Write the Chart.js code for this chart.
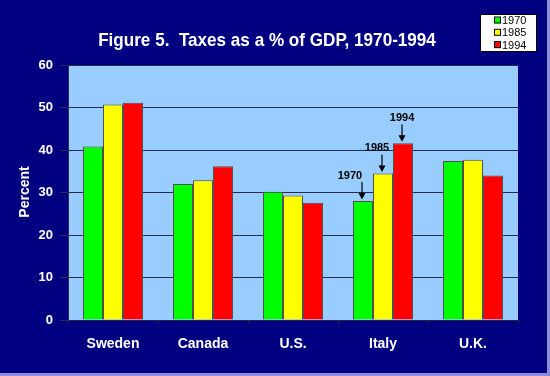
<!DOCTYPE html>
<html>
<head>
<meta charset="utf-8">
<script src="https://cdn.jsdelivr.net/npm/chart.js@4/dist/chart.umd.min.js"></script>
<style>
  body { margin: 0; background: #8c8cd8; width: 550px; height: 376px; overflow: hidden; }
  #wrap { width: 547px; height: 373px; background: #000080; }
</style>
</head>
<body>
<div id="wrap"><canvas id="taxChart" width="547" height="373"></canvas></div>
<script>
// data
const countries = ['Sweden', 'Canada', 'U.S.', 'Italy', 'U.K.'];
const years = ['1970', '1985', '1994'];
const taxes1970 = [40.8, 32.0, 30.2, 28.0, 37.4];
const taxes1985 = [50.7, 32.9, 29.3, 34.5, 37.7];
const taxes1994 = [51.1, 36.2, 27.6, 41.6, 34.0];
const yTicks = [0, 10, 20, 30, 40, 50, 60];
const barColors = ['#00ff00', '#ffff00', '#ff0000'];

const FONT = '"Liberation Sans", Arial, sans-serif';

// title, axis title, legend box and the Italy call-outs
const extras = {
    id: 'extras',
    afterDraw(chart) {
        const ctx = chart.ctx;
        ctx.save();
        // title (slightly condensed, like the original)
        ctx.fillStyle = '#ffffff';
        ctx.textAlign = 'center';
        ctx.textBaseline = 'middle';
        ctx.save();
        ctx.translate(267, 41);
        ctx.scale(0.9, 1);
        ctx.font = 'bold 19px ' + FONT;
        ctx.fillText('Figure 5.  Taxes as a % of GDP, 1970-1994', 0, 0);
        ctx.restore();

        // y axis title
        ctx.save();
        ctx.translate(25, 192);
        ctx.rotate(-Math.PI / 2);
        ctx.font = 'bold 14px ' + FONT;
        ctx.fillText('Percent', 0, 0);
        ctx.restore();

        // legend
        ctx.fillStyle = '#ffffff';
        ctx.fillRect(480, 14, 57, 38);
        ctx.strokeStyle = '#000000';
        ctx.lineWidth = 1;
        ctx.strokeRect(480.5, 14.5, 56, 37);
        ctx.font = '11px ' + FONT;
        ctx.textAlign = 'left';
        years.forEach((y, i) => {
            const cy = 20.5 + i * 12.3;
            ctx.fillStyle = barColors[i];
            ctx.fillRect(494, cy - 3, 6, 6);
            ctx.strokeStyle = '#000000';
            ctx.strokeRect(494.5, cy - 3.5, 6, 6);
            ctx.fillStyle = '#000000';
            ctx.fillText(y, 502, cy + 0.5);
        });

        // call-outs on Italy bars
        const offsets = [-12, -5, 0];
        ctx.font = 'bold 11px ' + FONT;
        ctx.textAlign = 'center';
        years.forEach((y, i) => {
            const bar = chart.getDatasetMeta(i).data[3];
            const x = bar.x - 1;
            const top = bar.y;
            ctx.fillStyle = '#000000';
            ctx.fillText(y, x + offsets[i], top - 25);
            ctx.strokeStyle = '#000000';
            ctx.lineWidth = 1.2;
            ctx.beginPath();
            ctx.moveTo(x, top - 19);
            ctx.lineTo(x, top - 6);
            ctx.stroke();
            ctx.beginPath();
            ctx.moveTo(x - 3.5, top - 8);
            ctx.lineTo(x + 3.5, top - 8);
            ctx.lineTo(x, top - 1.5);
            ctx.closePath();
            ctx.fill();
        });
        ctx.restore();
    }
};

// light blue plot background
const plotBg = {
    id: 'plotBg',
    beforeDraw(chart) {
        const a = chart.chartArea;
        chart.ctx.save();
        chart.ctx.fillStyle = '#99ccff';
        chart.ctx.fillRect(a.left, a.top, a.right - a.left, a.bottom - a.top);
        chart.ctx.restore();
    }
};

new Chart(document.getElementById('taxChart'), {
    type: 'bar',
    data: {
        labels: countries,
        datasets: [
            { label: years[0], data: taxes1970, backgroundColor: barColors[0] },
            { label: years[1], data: taxes1985, backgroundColor: barColors[1] },
            { label: years[2], data: taxes1994, backgroundColor: barColors[2] },
        ].map(d => Object.assign(d, { borderColor: '#505050', borderWidth: 1, borderSkipped: 'bottom' })),
    },
    options: {
        responsive: false,
        animation: false,
        layout: { padding: { left: 0, top: 65, right: 29, bottom: 0 } },
        categoryPercentage: 0.667,
        barPercentage: 1,
        plugins: {
            legend: { display: false },
            tooltip: { enabled: false },
        },
        scales: {
            x: {
                afterFit: s => { s.height = 53; },
                grid: { drawOnChartArea: false, color: '#222244', tickLength: 4, offset: true },
                border: { color: '#222244' },
                ticks: { color: '#ffffff', font: { family: FONT, size: 14, weight: 'bold' }, padding: 12 },
            },
            y: {
                min: 0,
                max: 60,
                afterFit: s => { s.width = 68; },
                afterBuildTicks: s => { s.ticks = yTicks.map(v => ({ value: v })); },
                grid: { color: '#2a2a50', tickLength: 8, lineWidth: 1 },
                border: { color: '#2a2a50' },
                ticks: { color: '#ffffff', font: { family: FONT, size: 13, weight: 'bold' }, padding: 7 },
            },
        },
    },
    plugins: [plotBg, extras],
});
</script>
</body>
</html>
